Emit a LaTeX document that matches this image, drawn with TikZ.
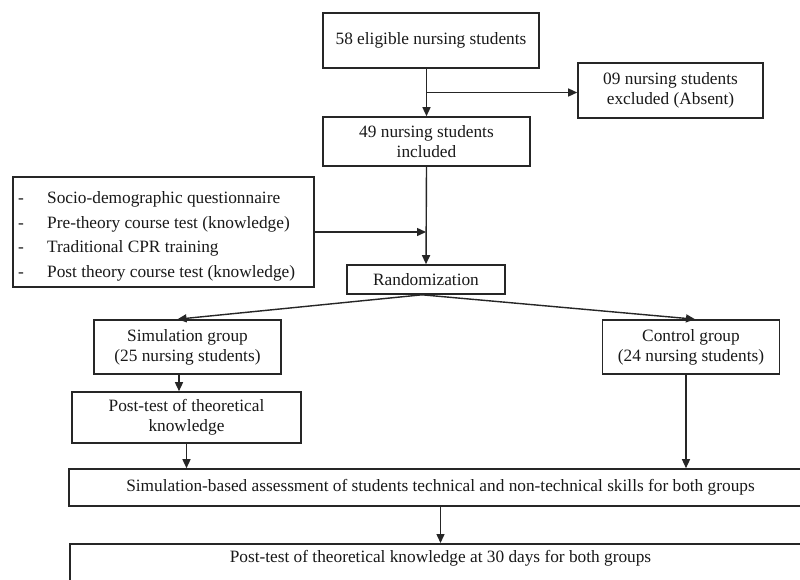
\documentclass[tikz,border=0pt]{standalone}
\usepackage{fontspec}
\setmainfont{Liberation Serif}
\usetikzlibrary{arrows.meta,calc}
\begin{document}
\begin{tikzpicture}[x=1pt,y=-1pt,
  every node/.style={font=\fontsize{17.3}{20}\selectfont, text=black!90},
  box/.style={draw=black!85, line width=1.6pt, inner sep=0pt, align=center},
  arr/.style={draw=black!85, line width=1.4pt, -{Triangle[length=9pt,width=8pt]}}]
\useasboundingbox (0,0) rectangle (800,579);
\clip (0,0) rectangle (800,579);
\fill[white] (0,0) rectangle (800,579);
% boxes
\node[box, minimum width=216pt, minimum height=55pt] (n58) at (431,40.5) {58 eligible nursing students};
\node[box, minimum width=185pt, minimum height=55pt] (excl) at (670.5,90.5) {09 nursing students\\excluded (Absent)};
\node[box, minimum width=207pt, minimum height=49pt] (n49) at (426.5,141.5) {49 nursing students\\included};
\node[box, minimum width=301pt, minimum height=110pt] (list) at (163.5,232) {};
\node[anchor=west, inner sep=0pt] (listtxt) at (18,235.5) {\fontsize{17.3}{24.8}\selectfont\begin{tabular}{@{}p{29pt}@{}l@{}}
- & Socio-demographic questionnaire\\
- & Pre-theory course test (knowledge)\\
- & Traditional CPR training\\
- & Post theory course test (knowledge)
\end{tabular}};
\node[box, minimum width=158pt, minimum height=29pt] (rand) at (426,279.5) {Randomization};
\node[box, minimum width=187pt, minimum height=54pt] (sim) at (187.5,347) {Simulation group\\(25 nursing students)};
\node[box, minimum width=177pt, minimum height=54pt] (ctrl) at (691,347) {Control group\\(24 nursing students)};
\node[box, minimum width=229pt, minimum height=51pt] (post) at (186.5,417.5) {Post-test of theoretical\\knowledge};
\node[box, minimum width=743pt, minimum height=37pt] (assess) at (440.5,487.5) {Simulation-based assessment of students technical and non-technical skills for both groups};
\node[box, anchor=north west, minimum width=743pt, minimum height=60pt] (final) at (69,543) {};
\node (finaltxt) at (440.5,558) {Post-test of theoretical knowledge at 30 days for both groups};
% connectors
\coordinate (b1) at (426.5,92.5);
\draw[arr] (n49.north |- n58.south) -- (n49.north);
\draw[arr] (b1) -- (excl.west |- b1);
\draw[arr] (n49.south) -- (rand.north);
\draw[arr] (list.east) -- (list.east -| rand.north);
\draw[arr] ($(rand.south)+(-4,0)$) -- ($(sim.north)+(-10,0)$);
\draw[arr] ($(rand.south)+(-4,0)$) -- ($(ctrl.north)+(4,0)$);
\draw[arr] ($(sim.south)+(-8.5,0)$) -- ($(post.north)+(-7.5,0)$);
\draw[arr] (post.south) -- (post.south |- assess.north);
\draw[arr] ($(ctrl.south)+(-5,0)$) -- ($(ctrl.south |- assess.north)+(-5,0)$);
\draw[arr] (assess.south) -- (final.north -| assess.south);
\end{tikzpicture}
\end{document}
